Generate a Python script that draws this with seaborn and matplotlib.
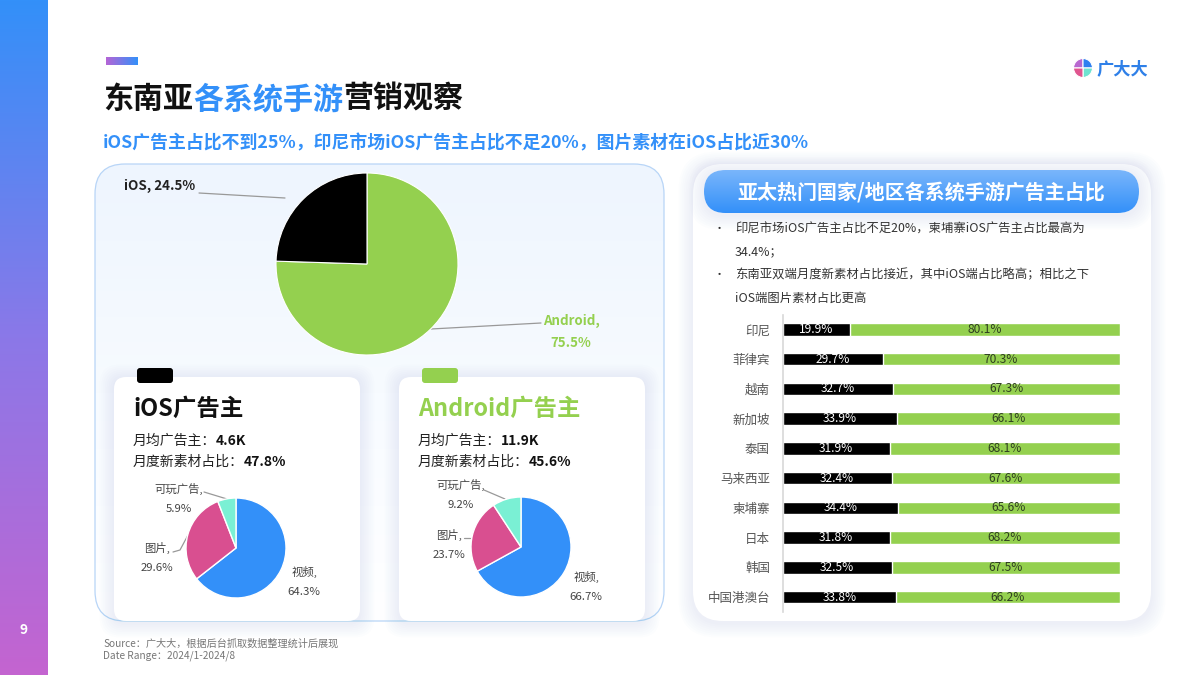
import numpy as np
import pandas as pd
import matplotlib
matplotlib.use("Agg")
import matplotlib.pyplot as plt
from matplotlib.patches import FancyBboxPatch, Wedge
from matplotlib.colors import LinearSegmentedColormap
import seaborn as sns

# values
system_names = ["Android", "iOS"]
system_share = [75.5, 24.5]

format_names = ["视频", "图片", "可玩广告"]
ios_format = [64.3, 29.6, 5.9]
android_format = [66.7, 23.7, 9.2]

countries = ["印尼", "菲律宾", "越南", "新加坡", "泰国", "马来西亚", "柬埔寨", "日本", "韩国", "中国港澳台"]
ios_share = [19.9, 29.7, 32.7, 33.9, 31.9, 32.4, 34.4, 31.8, 32.5, 33.8]
android_share = [80.1, 70.3, 67.3, 66.1, 68.1, 67.6, 65.6, 68.2, 67.5, 66.2]

blue = "#3390f9"
green = "#94d04f"
pink = "#d94f90"
mint = "#7af0d4"

sns.set_theme(style="white")
plt.rcParams["font.family"] = ["Noto Sans CJK SC", "DejaVu Sans"]

W, H = 1200, 675
fig = plt.figure(figsize=(12, 6.75), dpi=100, facecolor="white")

# background layer in pixel coordinates, y goes down like the picture
bg = fig.add_axes([0, 0, 1, 1], zorder=0)
bg.set_xlim(0, W)
bg.set_ylim(H, 0)
bg.axis("off")


def px_axes(x0, y0, x1, y1):
    return fig.add_axes([x0 / W, 1 - y1 / H, (x1 - x0) / W, (y1 - y0) / H], zorder=2, facecolor="none")


def card(x0, y0, x1, y1, r, z, fc="white", shadow=True):
    if shadow:
        for i in range(8, 0, -1):
            bg.add_patch(FancyBboxPatch((x0, y0 + 2), x1 - x0, y1 - y0,
                                        boxstyle=f"round,pad={i * 1.8},rounding_size={r + i}",
                                        fc="#4f94f0", ec="none", alpha=0.012, zorder=z))
    p = FancyBboxPatch((x0, y0), x1 - x0, y1 - y0, boxstyle=f"round,pad=0,rounding_size={r}",
                       fc=fc, ec="none", zorder=z + 0.01)
    bg.add_patch(p)
    return p


def gradient(x0, y0, x1, y1, colors, z=1.0, clip=None, horizontal=False):
    cmap = LinearSegmentedColormap.from_list("g", colors)
    g = np.linspace(0, 1, 256)
    g = g.reshape(1, -1) if horizontal else g.reshape(-1, 1)
    im = bg.imshow(g, extent=(x0, x1, y1, y0), cmap=cmap, aspect="auto", zorder=z)
    if clip is not None:
        im.set_clip_path(clip)
    bg.set_xlim(0, W)
    bg.set_ylim(H, 0)


def say(x, y, s, size, color="#222222", weight="normal", ha="left"):
    return bg.text(x, y, s, fontsize=size, color=color, fontweight=weight, ha=ha, va="center", zorder=5)


def say_parts(x, y, parts, size, weight="bold"):
    # mixed colour or weight runs on one line
    rend = fig.canvas.get_renderer()
    for s, c, w in parts:
        t = say(x, y, s, size, c, w or weight)
        box = t.get_window_extent(rend)
        x += box.width


def leader(xs, ys, color="#999999"):
    bg.plot(xs, ys, color=color, lw=0.9, zorder=5)


# side bar and little accent
gradient(0, 0, 48, H, [blue, "#8b78e8", "#c464d0"])
say(24, 630, "9", 10, "white", "bold", ha="center")
gradient(106, 57, 138, 65, ["#b565d6", blue], horizontal=True)

# title block
say_parts(103, 99, [("东南亚", "#111111", None), ("各系统手游", blue, None), ("营销观察", "#111111", None)], 21.6)
say(103, 143, "iOS广告主占比不到25%，印尼市场iOS广告主占比不足20%，图片素材在iOS占比近30%", 12.85, blue, "bold")

# logo
logo_c = (1083, 68)
for a0, a1, c in [(90, 180, "#b868d0"), (0, 90, "#2f80f0"), (270, 360, "#6fe3d0"), (180, 270, "#e0558f")]:
    bg.add_patch(Wedge(logo_c, 9.5, -a1, -a0, fc=c, ec="white", lw=0.8, zorder=5))
say(1097, 69, "广大大", 12.4, "#2f80e8", "bold")

# left panel
left = card(95, 164, 664, 621, 30, 1.0, fc="#f4f9ff", shadow=False)
gradient(95, 164, 664, 621, ["#eef5fe", "#f7fbff", "#ffffff"], z=1.1, clip=left)
bg.add_patch(FancyBboxPatch((95, 164), 569, 457, boxstyle="round,pad=0,rounding_size=30",
                            fc="none", ec="#b8d5f7", lw=0.9, zorder=1.2))

# small cards
card(114, 377, 360, 621, 12, 1.3)
card(399, 377, 645, 621, 12, 1.3)
for x0, c in [(137, "black"), (422, green)]:
    bg.add_patch(FancyBboxPatch((x0, 368), 36, 15, boxstyle="round,pad=0,rounding_size=3",
                                fc=c, ec="none", zorder=1.5))

say(133, 409, "iOS广告主", 16.9, "#111111", "bold")
say(418, 409, "Android广告主", 16.8, green, "bold")
say_parts(133, 441, [("月均广告主：", "#222222", "normal"), ("4.6K", "#111111", "bold")], 10)
say_parts(133, 462, [("月度新素材占比：", "#222222", "normal"), ("47.8%", "#111111", "bold")], 10)
say_parts(418, 441, [("月均广告主：", "#222222", "normal"), ("11.9K", "#111111", "bold")], 10)
say_parts(418, 462, [("月度新素材占比：", "#222222", "normal"), ("45.6%", "#111111", "bold")], 10)

# right panel
card(693, 164, 1151, 621, 30, 1.0)
pill = card(704, 170, 1139, 213, 21.5, 1.3)
gradient(704, 170, 1139, 213, ["#7ab6fb", blue], z=1.4, clip=pill)
say(921, 192, "亚太热门国家/地区各系统手游广告主占比", 14.4, "white", "bold", ha="center")

bullets = [(229, "印尼市场iOS广告主占比不足20%，柬埔寨iOS广告主占比最高为", True),
           (252, "34.4%；", False),
           (275, "东南亚双端月度新素材占比接近，其中iOS端占比略高；相比之下", True),
           (298, "iOS端图片素材占比更高", False)]
for y, s, dot in bullets:
    say(735, y, s, 8.9, "#333333")
    if dot:
        say(719, y, "•", 8, "#333333", ha="center")

# main pie
ax = px_axes(367 - 92, 264 - 92, 367 + 92, 264 + 92)
ax.pie(system_share, colors=[green, "black"], startangle=90, counterclock=False, radius=91 / 92,
       wedgeprops=dict(edgecolor="white", linewidth=0.8))
ax.set_xlim(-1, 1)
ax.set_ylim(-1, 1)
say(124, 186, f"{system_names[1]}, {system_share[1]}%", 9.6, "#222222", "bold")
say(571, 321, f"{system_names[0]},", 9.6, green, "bold", ha="center")
say(571, 343, f"{system_share[0]}%", 9.6, green, "bold", ha="center")
leader([199, 285], [193, 198])
leader([431, 541], [329, 323])

# format pies
small_pies = [(ios_format, 236, 548, [(304, 572), (157, 548), (179, 489)]),
              (android_format, 521, 547, [(586, 577), (449, 535), (461, 485)])]
for vals, cx, cy, spots in small_pies:
    ax = px_axes(cx - 51, cy - 51, cx + 51, cy + 51)
    ax.pie(vals, colors=[blue, pink, mint], startangle=90, counterclock=False, radius=50 / 51,
           wedgeprops=dict(edgecolor="white", linewidth=1.0))
    ax.set_xlim(-1, 1)
    ax.set_ylim(-1, 1)
    for name, v, (tx, ty) in zip(format_names, vals, spots):
        say(tx, ty, name + ",", 8.2, "#444444", ha="center")
        say(tx, ty + 20, f"{v}%", 8.2, "#444444", ha="center")
leader([204, 227], [492, 499])
leader([173, 180, 187.5], [552, 550, 536])
leader([484, 505], [490, 499])
leader([464, 470], [538, 538])

# stacked bars, green drawn full length and black over it
share = pd.DataFrame({"country": countries, "ios": ios_share, "android": android_share})
share["total"] = share["ios"] + share["android"]

ax = px_axes(782.5, 314.5, 1119.5, 612)
sns.barplot(data=share, y="country", x="total", color=green, saturation=1, width=0.42, ax=ax, orient="h")
sns.barplot(data=share, y="country", x="ios", color="black", saturation=1, width=0.42, ax=ax, orient="h")
ax.set_xlim(0, 100)
ax.set_xlabel("")
ax.set_ylabel("")
ax.set_xticks([])
ax.tick_params(axis="y", length=0, labelsize=9, labelcolor="#555555", pad=9)
sns.despine(ax=ax, left=False, bottom=True)
ax.spines["left"].set_color("#d8d8d8")
ax.spines["left"].set_linewidth(1.2)
for i, (a, b) in enumerate(zip(ios_share, android_share)):
    ax.text(a / 2, i, f"{a}%", color="white", fontsize=8.6, ha="center", va="center")
    ax.text(a + b / 2, i, f"{b}%", color="#2f3f20", fontsize=8.6, ha="center", va="center")

# source note
say(103, 644, "Source：广大大，根据后台抓取数据整理统计后展现", 7.3, "#777777")
say(103, 656, "Date Range：2024/1-2024/8", 7.3, "#777777")

fig.savefig("out.png", dpi=100)
